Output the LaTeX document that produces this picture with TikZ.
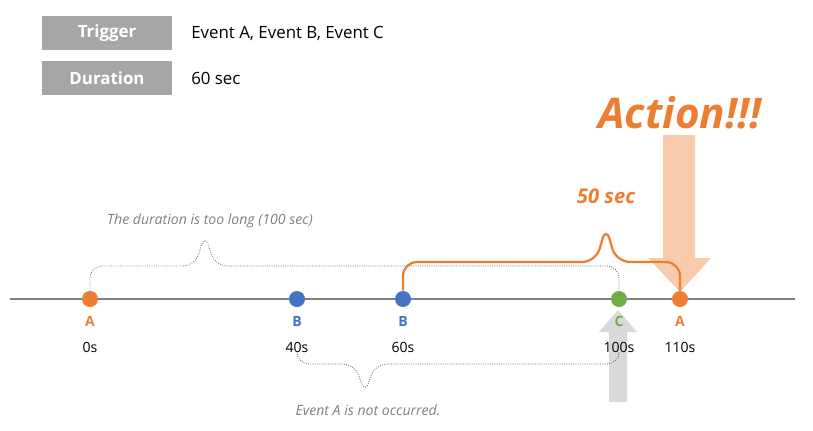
\documentclass[tikz,border=0pt]{standalone}
\usepackage{fontspec}
\setmainfont{Open Sans}
\usetikzlibrary{positioning}
\definecolor{evorange}{RGB}{237,125,49}
\definecolor{evblue}{RGB}{68,114,196}
\definecolor{evgreen}{RGB}{112,173,71}
\definecolor{boxgray}{RGB}{166,166,166}
\definecolor{peach}{RGB}{248,203,173}
\tikzset{
  hdr/.style={fill=boxgray, text=white, font=\bfseries\large, minimum width=3.25cm, minimum height=0.87cm},
  dot/.style={circle, fill=#1, inner sep=0pt, minimum size=0.4cm},
  note/.style={font=\itshape, text=gray},
  brace/.style={black!55, semithick, densely dotted, rounded corners=0.3cm}
}
\begin{document}
\begin{tikzpicture}[x=0.025cm, y=-0.025cm]
  \useasboundingbox (0,0) rectangle (813,430);
  % settings table
  \node[hdr] (trig) at (107,33) {Trigger};
  \node[hdr] (dur) at (107,78) {Duration};
  \node[right=0.35cm of trig] {\large Event A, Event B, Event C};
  \node[right=0.35cm of dur] {\large 60 sec};
  % big arrow and action
  \fill[peach] (663,135) -- (695,135) -- (695,258) -- (711,258) -- (680,292) -- (648,258) -- (663,258) -- cycle;
  \node[text=evorange, font=\bfseries\itshape\fontsize{30}{34}\selectfont] (act) at (680,113) {Action!!!};
  % gray up arrow
  \fill[black!15] (609,402) -- (627,402) -- (627,332) -- (637,332) -- (618,310) -- (599,332) -- (609,332) -- cycle;
  % timeline
  \draw[gray, thick] (10,299) -- (795,299);
  \node[dot=evorange] (a1) at (90,299) {};
  \node[dot=evblue] (b1) at (297,299) {};
  \node[dot=evblue] (b2) at (403,299) {};
  \node[dot=evgreen] (c1) at (619,299) {};
  \node[dot=evorange] (a2) at (680,299) {};
  % letters and times
  \foreach \n/\l/\c/\t in {a1/A/evorange/0s, b1/B/evblue/40s, b2/B/evblue/60s, c1/C/evgreen/100s, a2/A/evorange/110s}{
    \node[below=0.1cm of \n, text=\c, font=\bfseries] (\n l) {\l};
    \node[below=0.15cm of \n l] {\t};
  }
  % duration braces
  \draw[brace] (a1.north) -- (90,266) -- (195,266) -- (205,234) -- (215,266) -- (619,266) -- (c1.north);
  \node[note] (long) at (210,221) {The duration is too long (100 sec)};
  \draw[brace] (b1.south) ++(0,45) -- (297,364) -- (355,364) -- (365,394) -- (375,364) -- (619,364) -- (619,357);
  \node[note] (noA) at (368,410) {Event A is not occurred.};
  \draw[evorange, line width=1.6pt, rounded corners=0.35cm] (b2.north) -- (403,262) -- (596,262) -- (606,226) -- (616,262) -- (680,262) -- (a2.north);
  \node[text=evorange, font=\bfseries\itshape\Large] (fifty) at (606,196) {50 sec};
\end{tikzpicture}
\end{document}
